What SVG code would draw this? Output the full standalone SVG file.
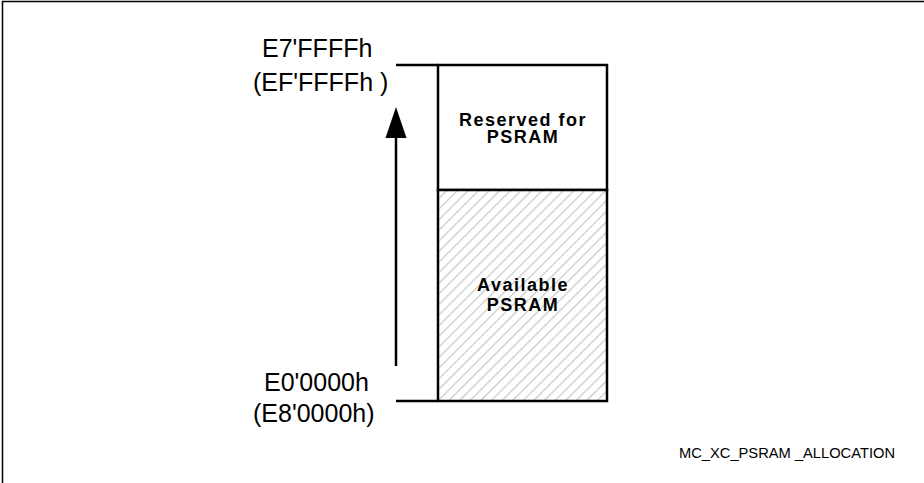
<svg xmlns="http://www.w3.org/2000/svg" width="924" height="483" viewBox="0 0 924 483">
<defs>
<style>
.addr{font-family:"Liberation Sans",Arial,sans-serif;font-size:25px;fill:#000}
.lbl{font-family:"Liberation Sans",Arial,sans-serif;font-size:18px;font-weight:bold;letter-spacing:1.5px;fill:#000;text-anchor:middle}
.cap{font-family:"Liberation Sans",Arial,sans-serif;font-size:14px;fill:#000}
.ln{stroke:#000;stroke-width:2.5}
</style>
<pattern id="hatch" patternUnits="userSpaceOnUse" width="7.5" height="7.5" patternTransform="rotate(-45)">
<rect width="7.5" height="7.5" fill="#fff"/>
<line x1="0" y1="0.6" x2="7.5" y2="0.6" stroke="#c8c8c8" stroke-width="1.2"/>
</pattern>
</defs>
<path d="M2.5 483 V1.5 H924" fill="none" stroke="#000" stroke-width="1.5"/>
<g id="reserved">
<rect x="438" y="65" width="169" height="125" fill="#fff" class="ln"/>
<text class="lbl" x="523" y="126">Reserved for</text>
<text class="lbl" x="523" y="143">PSRAM</text>
</g>
<g id="available">
<rect x="438" y="190" width="169" height="211" fill="url(#hatch)" class="ln"/>
<text class="lbl" x="523" y="291">Available</text>
<text class="lbl" x="523" y="311">PSRAM</text>
</g>
<g id="connectors">
<line x1="396" y1="65" x2="438" y2="65" class="ln"/>
<line x1="396" y1="401" x2="438" y2="401" class="ln"/>
<line x1="396" y1="366" x2="396" y2="135" class="ln"/>
<path d="M396 107 L406.5 138 L385.5 138 Z" fill="#000"/>
</g>
<g id="labels">
<text class="addr" x="262" y="57">E7'FFFFh</text>
<text class="addr" x="253" y="91">(EF'FFFFh )</text>
<text class="addr" x="264" y="391">E0'0000h</text>
<text class="addr" x="253" y="422">(E8'0000h)</text>
<text class="cap" x="679" y="458" textLength="216" lengthAdjust="spacingAndGlyphs">MC_XC_PSRAM _ALLOCATION</text>
</g>
</svg>
